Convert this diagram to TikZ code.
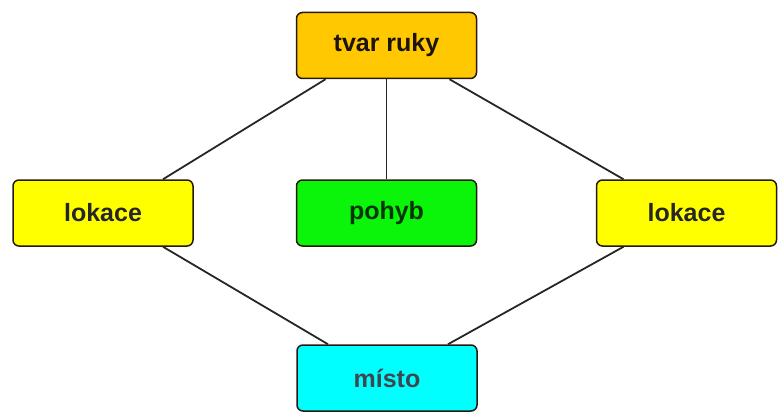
\documentclass[tikz,border=0pt]{standalone}
\usepackage{fontspec}
\setmainfont{Liberation Sans}
\begin{document}
\begin{tikzpicture}[x=1pt,y=-1pt,
  box/.style={draw=black!80!brown, line width=1.5pt, rounded corners=6pt,
    minimum width=180pt, minimum height=66pt, inner sep=0pt,
    font=\fontsize{25}{29}\selectfont\bfseries},
  link/.style={line width=1.8pt, draw=black!85}]
\useasboundingbox (0,0) rectangle (780,412);
\definecolor{gold}{RGB}{255,200,0}
\definecolor{yel}{RGB}{255,255,0}
\definecolor{grn}{RGB}{10,245,10}
\definecolor{cyn}{RGB}{0,255,255}
\node[box, fill=gold, text=black!85!brown] (top) at (386.5,45.5) {tvar ruky};
\node[box, fill=yel, text=black!85] (left) at (103,213) {lokace};
\node[box, fill=grn, text=black!80!green] (mid) at (386.5,213) {pohyb};
\node[box, fill=yel, text=black!85] (right) at (686.5,213) {lokace};
\node[box, fill=cyn, text=black!80!cyan] (bot) at (387,378) {místo};
\draw[link] ([xshift=-61pt]top.south) -- ([xshift=60pt]left.north);
\draw[link] (top.south) -- (mid.north);
\draw[link] ([xshift=63pt]top.south) -- ([xshift=-63pt]right.north);
\draw[link] ([xshift=60pt]left.south) -- ([xshift=-59pt]bot.north);
\draw[link] ([xshift=-63pt]right.south) -- ([xshift=61pt]bot.north);
\end{tikzpicture}
\end{document}
